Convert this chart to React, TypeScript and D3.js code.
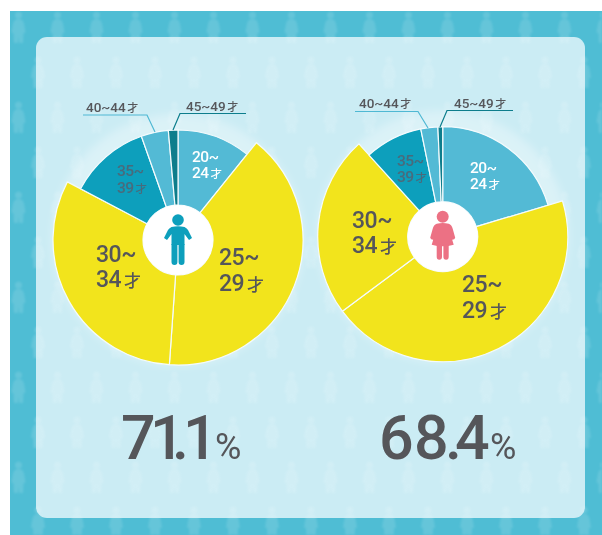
import React from "react";
import * as d3 from "d3";

const ageGroups = ["20~24", "25~29", "30~34", "35~39", "40~44", "45~49"];
const maleShares = [10.8, 40.3, 31.6, 11.9, 4.0, 1.4];
const femaleShares = [20.4, 44.5, 23.5, 8.5, 2.5, 0.7];
const sliceColors = ["#52bad5", "#f2e41e", "#f2e41e", "#0a9fbc", "#52bad5", "#0b7d8c"];
const malePercent = "71.1";
const femalePercent = "68.4";

const R_BIG = 125;
const R_SMALL = 110;
const R_HOLE = 35;
const INK = "#55565a";

const isBig = (i: number) => i === 1 || i === 2;

type Lbl = { i: number; x: number; y: [number, number]; size: number; fill: string };
const maleLabels: Lbl[] = [
  { i: 0, x: 192, y: [162, 178], size: 15.5, fill: "#ffffff" },
  { i: 1, x: 219, y: [265, 291], size: 23, fill: INK },
  { i: 2, x: 96, y: [262, 287], size: 23, fill: INK },
  { i: 3, x: 117, y: [176, 193], size: 15.5, fill: "#4a6b7c" },
];
const femaleLabels: Lbl[] = [
  { i: 0, x: 470, y: [173, 189], size: 15.5, fill: "#ffffff" },
  { i: 1, x: 462, y: [292, 318], size: 23, fill: INK },
  { i: 2, x: 352, y: [228, 253], size: 23, fill: INK },
  { i: 3, x: 397, y: [166, 182], size: 15.5, fill: "#4a6b7c" },
];

const FONT = "Roboto, 'Noto Sans CJK JP', sans-serif";

function Pie({ cx, cy, shares }: { cx: number; cy: number; shares: number[] }) {
  const pie = d3.pie<number>().sort(null).value((d) => d);
  const arc = d3.arc<d3.PieArcDatum<number>>().innerRadius(R_HOLE);
  return (
    <g transform={`translate(${cx},${cy})`}>
      <circle r={R_BIG + 1} fill="#ffffff" opacity={0.3} filter="url(#glow)" />
      {pie(shares).map((s, i) => (
        <path
          key={ageGroups[i]}
          d={arc.outerRadius(isBig(i) ? R_BIG : R_SMALL)(s) as string}
          fill={sliceColors[i]}
          stroke="#f4fbfd"
          strokeWidth={1.2}
          strokeLinejoin="round"
        />
      ))}
      <circle r={R_HOLE} fill="#ffffff" />
    </g>
  );
}

function Male({ x, y }: { x: number; y: number }) {
  const c = "#0a9fbc";
  return (
    <g transform={`translate(${x},${y})`} fill={c}>
      <circle cy={-20} r={5.8} />
      <path d="M-6.5,-13 Q0,-14.5 6.5,-13 Q8.5,-12 10,-10 L14,-2 L11,0 L6.5,-6 L6.5,5 L-6.5,5 L-6.5,-6 L-11,0 L-14,-2 L-10,-10 Q-8.5,-12 -6.5,-13Z" />
      <path d="M-6.5,4 H-0.6 V22 Q-0.6,25 -3.5,25 Q-6.5,25 -6.5,22Z M0.6,4 H6.5 V22 Q6.5,25 3.5,25 Q0.6,25 0.6,22Z" />
    </g>
  );
}

function Female({ x, y }: { x: number; y: number }) {
  const c = "#ec7184";
  return (
    <g transform={`translate(${x},${y})`} fill={c}>
      <circle cy={-20} r={6} />
      <path d="M-6,-13 Q0,-14.5 6,-13 Q9,-12 10,-8 L12.5,1 Q12,3 9.5,3 L11,8 Q0,11 -11,8 L-9.5,3 Q-12,3 -12.5,1 L-10,-8 Q-9,-12 -6,-13Z" />
      <path d="M-6,8 H-0.7 V20 Q-0.7,23 -3.4,23 Q-6,23 -6,20Z M0.7,8 H6 V20 Q6,23 3.4,23 Q0.7,23 0.7,20Z" />
    </g>
  );
}

function Labels({ items }: { items: Lbl[] }) {
  return (
    <g fontFamily={FONT} fontWeight={500}>
      {items.map((l) => {
        const [a, b] = ageGroups[l.i].split("~");
        return (
          <g key={l.i} fill={l.fill} fontSize={l.size} letterSpacing={-0.5}>
            <text x={l.x} y={l.y[0]}>{a}~</text>
            <text x={l.x} y={l.y[1]}>
              {b}
              <tspan dx={l.size * 0.12} fontSize={l.size * 0.74}>才</tspan>
            </text>
          </g>
        );
      })}
    </g>
  );
}

function Callout({ label, tx, ty, points, color }: { label: string; tx: number; ty: number; points: string; color: string }) {
  return (
    <g>
      <text x={tx} y={ty} fontFamily={FONT} fontWeight={500} fontSize={13.5} fill={INK}>
        {label}
        <tspan dx={1.5} fontSize={11}>才</tspan>
      </text>
      <polyline points={points} fill="none" stroke={color} strokeWidth={1.2} />
    </g>
  );
}

const figure =
  "M0,-15.5a3.6,3.6 0 1 0 0.01,0Z M-3,-7.5 Q0,-8.5 3,-7.5 Q5,-6.5 5.6,-3 L7,5 Q6.6,6.5 5,6 L4.6,16 L0.6,16 L0,9 L-0.6,16 L-4.6,16 L-5,6 Q-6.6,6.5 -7,5 L-5.6,-3 Q-5,-6.5 -3,-7.5Z";

export default function App() {
  return (
    <svg width={602} height={535} style={{ position: "absolute", left: 0, top: 0 }}>
      <defs>
        <pattern id="fig" width={39} height={90} patternUnits="userSpaceOnUse" x={0} y={0}>
          <g fill="#ffffff">
            <path d={figure} transform="translate(18.5,27)" />
            <path d={figure} transform="translate(38,72)" />
            <path d={figure} transform="translate(-1,72)" />
          </g>
        </pattern>
        <filter id="glow" x="-20%" y="-20%" width="140%" height="140%">
          <feGaussianBlur stdDeviation={4} />
        </filter>
        <filter id="soft" x="-2%" y="-2%" width="104%" height="104%">
          <feGaussianBlur stdDeviation={0.5} />
        </filter>
        <filter id="softer" x="-2%" y="-2%" width="104%" height="104%">
          <feGaussianBlur stdDeviation={1} />
        </filter>
      </defs>
      <rect x={10} y={11} width={592} height={524} fill="#4fbdd4" />
      <rect x={10} y={11} width={592} height={524} fill="url(#fig)" opacity={0.12} filter="url(#softer)" />
      <rect x={36} y={37} width={549} height={481} rx={11} fill="#cbecf4" />
      <rect x={36} y={37} width={549} height={481} rx={11} fill="url(#fig)" opacity={0.13} filter="url(#softer)" />
      <g filter="url(#soft)">
        <Pie cx={178} cy={240} shares={maleShares} />
        <Pie cx={442.7} cy={236.7} shares={femaleShares} />
        <Male x={178} y={240} />
        <Female x={442.7} y={236.7} />
        <Labels items={maleLabels} />
        <Labels items={femaleLabels} />

        <Callout label={ageGroups[4]} tx={86} ty={112} points="83,115 147,115 155,132" color="#4fb8d3" />
        <Callout label={ageGroups[5]} tx={186} ty={111} points="246,113.5 180,113.5 173,130" color="#0b7d8c" />
        <Callout label={ageGroups[4]} tx={359} ty={108} points="355,111.5 418,111.5 428,128" color="#4fb8d3" />
        <Callout label={ageGroups[5]} tx={454} ty={108} points="513,110.5 447,110.5 440,127" color="#0b7d8c" />

        <g fontFamily={FONT} fill={INK}>
          <text x="121 150 172 183" y={459} fontSize={61} fontWeight={500}>{malePercent}</text>
          <text x={215} y={459} fontSize={36} fontWeight={400}>%</text>
          <text x="379 414 445 455" y={459} fontSize={61} fontWeight={500}>{femalePercent}</text>
          <text x={490} y={459} fontSize={36} fontWeight={400}>%</text>
        </g>
      </g>
    </svg>
  );
}
